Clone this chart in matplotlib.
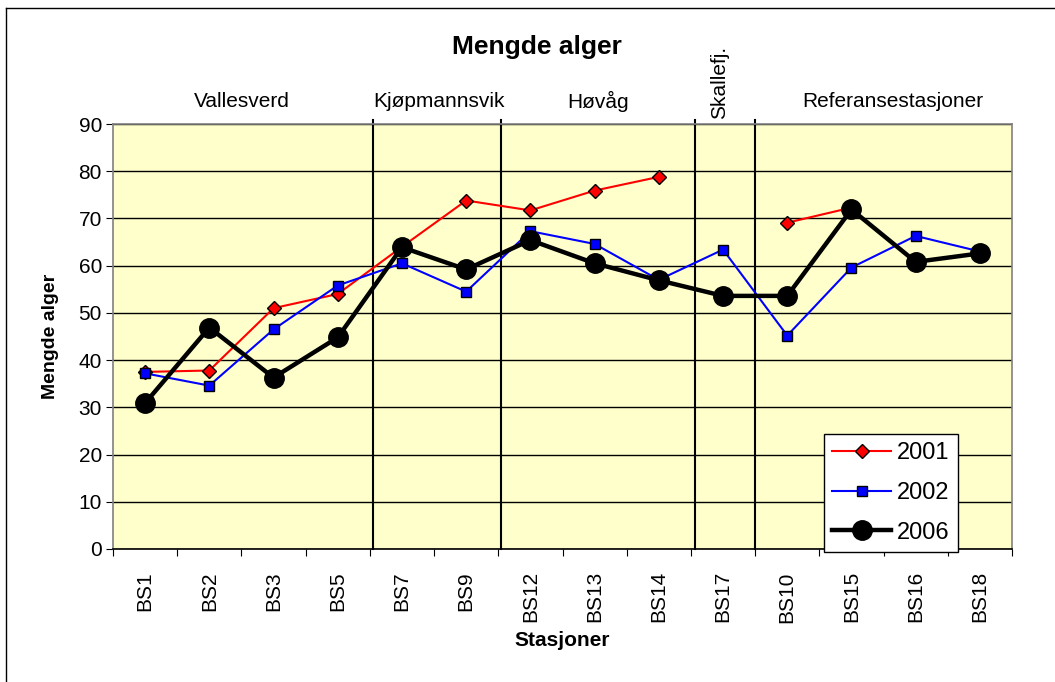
import numpy as np
import matplotlib
matplotlib.use("Agg")
import matplotlib.pyplot as plt
from matplotlib.lines import Line2D

plt.rcParams['font.family'] = ['Liberation Sans', 'DejaVu Sans']

# stations and values
stations = ['BS1', 'BS2', 'BS3', 'BS5', 'BS7', 'BS9', 'BS12', 'BS13', 'BS14',
            'BS17', 'BS10', 'BS15', 'BS16', 'BS18']
v2001 = [37.5, 37.8, 51.0, 54.0, 64.0, 73.8, 71.7, 75.9, 78.8,
         np.nan, 69.1, 72.3, np.nan, np.nan]
v2002 = [37.2, 34.6, 46.5, 55.8, 60.5, 54.5, 67.3, 64.6, 57.0,
         63.4, 45.2, 59.6, 66.3, 63.0]
v2006 = [30.9, 46.9, 36.3, 44.8, 63.9, 59.2, 65.4, 60.5, 56.9,
         53.6, 53.6, 71.9, 60.8, 62.6]

groups = ['Vallesverd', 'Kjøpmannsvik', 'Høvåg', 'Referansestasjoner']
group_x = [1.51, 4.58, 7.05, 11.65]
separators = [3.55, 5.55, 8.57, 9.5]

fig = plt.figure(figsize=(10.55, 6.82), dpi=100)
ax = fig.add_axes([113 / 1055, 1 - 549 / 682, (1012 - 113) / 1055, (549 - 124) / 682])
ax.set_facecolor('#FFFFCC')

x = np.arange(len(stations))

ax.set_ylim(0, 90)
ax.set_xlim(-0.5, len(stations) - 0.5)
ax.set_yticks(range(0, 91, 10))
ax.yaxis.grid(True, color='black', lw=1)
ax.set_axisbelow(True)

# category boundaries as major ticks, labels at centres
ax.set_xticks(np.arange(-0.5, len(stations), 1))
ax.set_xticklabels([])
ax.set_xticks(x, minor=True)
ax.set_xticklabels(stations, minor=True, rotation=90, fontsize=15)
ax.tick_params(axis='x', which='minor', length=0, pad=16)
ax.tick_params(axis='x', which='major', length=5, direction='out', color='black')
ax.tick_params(axis='y', length=5, direction='out', labelsize=15, pad=3)

for s in ax.spines.values():
    s.set_color('#808080')
    s.set_linewidth(1.2)
ax.spines['bottom'].set_color('black')

for sx in separators:
    ax.axvline(sx, ymin=0, ymax=1.01, color='black', lw=1.5, clip_on=False, zorder=2)

ax.plot(x, v2001, color='red', lw=1.5, marker='D', ms=7, mfc='red', mec='black',
        mew=1, label='2001', zorder=3)
ax.plot(x, v2002, color='blue', lw=1.5, marker='s', ms=7, mfc='blue', mec='black',
        mew=1, label='2002', zorder=4)
ax.plot(x, v2006, color='black', lw=3.2, marker='o', ms=14, mfc='black', mec='black',
        label='2006', zorder=5)

for g, gx in zip(groups, group_x):
    ax.text(gx, 94.8, g, ha='center', va='center', fontsize=15, clip_on=False)
ax.text(8.95, 91.1, 'Skallefj.', ha='center', va='bottom', rotation=90,
        fontsize=15, clip_on=False)

ax.set_ylabel('Mengde alger', fontsize=14, fontweight='bold', labelpad=14)
ax.set_xlabel('Stasjoner', fontsize=15, fontweight='bold', labelpad=6)
fig.text(537 / 1055, 1 - 47 / 682, 'Mengde alger', ha='center', va='center',
         fontsize=19, fontweight='bold')

leg = ax.legend(loc='lower right', bbox_to_anchor=(0.94, -0.007), borderaxespad=0,
                fontsize=17, handlelength=2.5, handletextpad=0.25, labelspacing=0.75,
                fancybox=False, framealpha=1, edgecolor='black', borderpad=0.35)
leg.get_frame().set_linewidth(1)
leg.set_zorder(10)

# outer chart border (top and left visible)
fig.add_artist(Line2D([6 / 1055, 6 / 1055], [0, 1 - 8 / 682], color='black', lw=1))
fig.add_artist(Line2D([6 / 1055, 1], [1 - 8 / 682, 1 - 8 / 682], color='black', lw=1))

fig.savefig('out.png', dpi=100)
